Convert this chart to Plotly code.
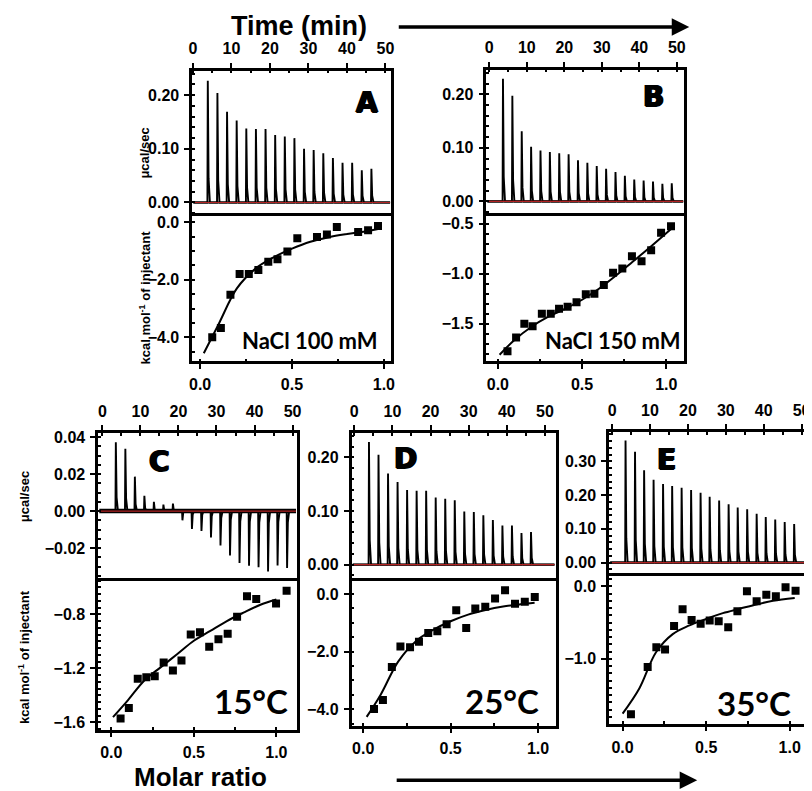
import plotly.graph_objects as go

W, H = 812, 791

# ---------------- DATA ----------------
# Thermograms: injection times (min) and peak heights (ucal/sec)
A_times = [3.8, 6.3, 8.8, 11.3, 13.8, 16.3, 18.8, 21.3, 23.8, 26.3, 28.8, 31.3, 33.8, 36.3, 38.8, 41.3, 43.8, 46.3]
A_peaks = [0.227, 0.204, 0.169, 0.153, 0.138, 0.137, 0.137, 0.126, 0.123, 0.120, 0.100, 0.098, 0.092, 0.083, 0.074, 0.074, 0.060, 0.063]

B_times = [3.6, 6.1, 8.6, 11.1, 13.6, 16.1, 18.6, 21.1, 23.6, 26.1, 28.6, 31.1, 33.6, 36.1, 38.6, 41.1, 43.6, 46.1, 48.6]
B_peaks = [0.229, 0.197, 0.131, 0.102, 0.095, 0.092, 0.090, 0.088, 0.077, 0.072, 0.066, 0.061, 0.055, 0.048, 0.041, 0.039, 0.037, 0.033, 0.034]

C_times = [3.5, 6.0, 8.5, 11.0, 13.5, 16.0, 18.5, 21.0, 23.5, 26.0, 28.5, 31.0, 33.5, 36.0, 38.5, 41.0, 43.5, 46.0, 48.5]
C_peaks = [0.0372, 0.0337, 0.0186, 0.0082, 0.005, 0.0035, 0.004, -0.005, -0.0097, -0.0107, -0.0143, -0.0186, -0.024, -0.028, -0.0295, -0.0303, -0.0326, -0.0294, -0.0308]

D_times = [3.8, 6.3, 8.8, 11.3, 13.8, 16.3, 18.8, 21.3, 23.8, 26.3, 28.8, 31.3, 33.8, 36.3, 38.8, 41.3, 43.8, 46.3]
D_peaks = [0.229, 0.205, 0.170, 0.154, 0.139, 0.138, 0.138, 0.125, 0.123, 0.120, 0.099, 0.098, 0.092, 0.083, 0.073, 0.073, 0.059, 0.061]

E_times = [3.5, 6.0, 8.4, 10.9, 13.4, 15.8, 18.3, 20.8, 23.3, 25.7, 28.2, 30.7, 33.1, 35.6, 38.1, 40.5, 43.0, 45.5, 48.0]
E_peaks = [0.362, 0.329, 0.274, 0.246, 0.233, 0.227, 0.222, 0.215, 0.207, 0.195, 0.184, 0.173, 0.163, 0.158, 0.145, 0.135, 0.128, 0.120, 0.114]

# Integrated heats: molar ratio vs kcal/mol of injectant
A_ratio = [0.066, 0.113, 0.165, 0.215, 0.265, 0.317, 0.371, 0.421, 0.475, 0.529, 0.636, 0.690, 0.744, 0.860, 0.914, 0.968]
A_heat = [-3.99, -3.67, -2.52, -1.80, -1.80, -1.66, -1.37, -1.29, -1.02, -0.56, -0.51, -0.43, -0.17, -0.34, -0.28, -0.13]
A_fit_x = [0.02, 0.1, 0.2, 0.3, 0.4, 0.5, 0.6, 0.7, 0.8, 0.9, 0.98]
A_fit_y = [-4.55, -3.55, -2.3, -1.62, -1.22, -0.92, -0.68, -0.52, -0.41, -0.32, -0.22]

B_ratio = [0.057, 0.108, 0.157, 0.206, 0.261, 0.314, 0.363, 0.414, 0.467, 0.522, 0.573, 0.629, 0.684, 0.739, 0.796, 0.853, 0.910, 0.969, 1.028]
B_heat = [-1.776, -1.637, -1.50, -1.524, -1.40, -1.40, -1.349, -1.329, -1.286, -1.206, -1.20, -1.113, -0.99, -0.947, -0.825, -0.875, -0.765, -0.59, -0.524]
B_fit_x = [0.01, 0.1, 0.2, 0.3, 0.4, 0.5, 0.6, 0.7, 0.8, 0.9, 1.03]
B_fit_y = [-1.81, -1.66, -1.53, -1.43, -1.35, -1.26, -1.15, -1.02, -0.88, -0.74, -0.55]

C_ratio = [0.056, 0.106, 0.160, 0.212, 0.263, 0.317, 0.373, 0.425, 0.481, 0.537, 0.593, 0.649, 0.705, 0.762, 0.822, 0.878, 0.998, 1.062]
C_heat = [-1.571, -1.492, -1.277, -1.265, -1.257, -1.155, -1.216, -1.142, -0.949, -0.932, -1.039, -0.983, -0.944, -0.817, -0.665, -0.685, -0.72, -0.624]
C_fit_x = [0.01, 0.1, 0.2, 0.3, 0.4, 0.5, 0.6, 0.7, 0.8, 0.9, 1.0]
C_fit_y = [-1.56, -1.436, -1.289, -1.19, -1.093, -0.995, -0.922, -0.849, -0.787, -0.73, -0.69]

D_ratio = [0.062, 0.113, 0.164, 0.213, 0.268, 0.319, 0.372, 0.424, 0.477, 0.532, 0.589, 0.641, 0.698, 0.754, 0.811, 0.868, 0.924, 0.981]
D_heat = [-4.0, -3.68, -2.54, -1.83, -1.85, -1.66, -1.36, -1.30, -1.05, -0.57, -1.18, -0.51, -0.45, -0.16, 0.13, -0.34, -0.27, -0.11]
D_fit_x = [0.02, 0.1, 0.2, 0.3, 0.4, 0.5, 0.6, 0.7, 0.8, 0.9, 0.98]
D_fit_y = [-4.27, -3.5, -2.35, -1.65, -1.25, -0.95, -0.72, -0.56, -0.44, -0.36, -0.31]

E_ratio = [0.05, 0.15, 0.202, 0.254, 0.308, 0.359, 0.413, 0.467, 0.521, 0.575, 0.632, 0.687, 0.744, 0.802, 0.86, 0.917, 0.975, 1.035]
E_heat = [-1.765, -1.114, -0.839, -0.871, -0.546, -0.316, -0.463, -0.518, -0.472, -0.481, -0.564, -0.344, -0.069, -0.206, -0.115, -0.138, -0.014, -0.06]
E_fit_x = [0.0, 0.1, 0.2, 0.3, 0.4, 0.5, 0.6, 0.7, 0.8, 0.9, 1.03]
E_fit_y = [-1.757, -1.41, -0.91, -0.66, -0.54, -0.45, -0.37, -0.31, -0.25, -0.2, -0.16]

time_ticks = [0, 10, 20, 30, 40, 50]
ratio_ticks = [0.0, 0.5, 1.0]

# ---------------- LAYOUT SPEC ----------------
panels = [
    dict(name="A", times=A_times, peaks=A_peaks, rx=A_ratio, ry=A_heat, fx=A_fit_x, fy=A_fit_y,
         box=(182, 383, 59, 206, 352), trange=[-0.2, 51.5], tr_y=[-0.026, 0.246], tyt=[0.0, 0.10, 0.20], tfmt=".2f",
         rr_x=[-0.043, 1.04], rr_y=[-4.83, 0.2], ryt=[0.0, -2.0, -4.0], rfmt=".1f", base_w=2.2,
         letter=(359, 91), cond="NaCl 100 mM", cond_pos=(372, 331), cond_size=22),
    dict(name="B", times=B_times, peaks=B_peaks, rx=B_ratio, ry=B_heat, fx=B_fit_x, fy=B_fit_y,
         box=(479, 679, 58, 206, 352), trange=[-0.8, 52.0], tr_y=[-0.028, 0.246], tyt=[0.0, 0.10, 0.20], tfmt=".2f",
         rr_x=[-0.069, 1.107], rr_y=[-1.876, -0.427], ryt=[-0.5, -1.0, -1.5], rfmt=".1f", base_w=2.2,
         letter=(648, 85), cond="NaCl 150 mM", cond_pos=(678, 331), cond_size=22),
    dict(name="C", times=C_times, peaks=C_peaks, rx=C_ratio, ry=C_heat, fx=C_fit_x, fy=C_fit_y,
         box=(87, 288, 424, 573, 723), trange=[-1.1, 51.2], tr_y=[-0.0376, 0.0423], tyt=[0.04, 0.02, 0.0, -0.02], tfmt=".2f",
         rr_x=[-0.08, 1.126], rr_y=[-1.652, -0.55], ryt=[-0.8, -1.2, -1.6], rfmt=".1f", base_w=4.5,
         letter=(149, 453), cond="15°C", cond_pos=(281, 694), cond_size=33),
    dict(name="D", times=D_times, peaks=D_peaks, rx=D_ratio, ry=D_heat, fx=D_fit_x, fy=D_fit_y,
         box=(343, 549, 424, 573, 719), trange=[-0.7, 52.8], tr_y=[-0.03, 0.246], tyt=[0.0, 0.10, 0.20], tfmt=".2f",
         rr_x=[-0.066, 1.10], rr_y=[-4.57, 0.46], ryt=[0.0, -2.0, -4.0], rfmt=".1f", base_w=2.2,
         letter=(397, 450), cond="25°C", cond_pos=(534, 694), cond_size=33),
    dict(name="E", times=E_times, peaks=E_peaks, rx=E_ratio, ry=E_heat, fx=E_fit_x, fy=E_fit_y,
         box=(603, 802, 423, 568, 717), trange=[-0.8, 51.2], tr_y=[-0.039, 0.388], tyt=[0.0, 0.10, 0.20, 0.30], tfmt=".2f",
         rr_x=[-0.081, 1.098], rr_y=[-1.894, 0.147], ryt=[0.0, -1.0], rfmt=".1f", base_w=2.2,
         letter=(661, 451), cond="35°C", cond_pos=(789, 696), cond_size=33),
]

TICKFONT = dict(family="Liberation Sans, Arial", size=16, color="black", weight=700)
LINE_W = 2.5


def fx_(px):
    return px / W


def fy_(py):
    return 1 - py / H


fig = go.Figure()
layout = dict(
    width=W, height=H, margin=dict(l=0, r=0, t=0, b=0),
    paper_bgcolor="white", plot_bgcolor="white", showlegend=False,
)
annotations = []

for i, p in enumerate(panels):
    top = 2 * i + 1
    bot = 2 * i + 2
    xt, yt = f"x{top}", f"y{top}"
    xb, yb = f"x{bot}", f"y{bot}"
    L, R, T, S, B = p["box"]

    # thermogram built from injection peaks
    tx, ty = [p["trange"][0] + 0.3], [0.0]
    for t, h in zip(p["times"], p["peaks"]):
        tx += [t - 0.05, t + 0.05, t + 0.25, t + 0.6]
        ty += [0.0, h, h * 0.2, 0.0]
    tx.append(p["trange"][1] - 0.3)
    ty.append(0.0)
    fig.add_trace(go.Scatter(x=[tx[0], tx[-1]], y=[0, 0], mode="lines",
                             line=dict(color="black", width=p["base_w"]), xaxis=xt, yaxis=yt))
    fig.add_trace(go.Scatter(x=tx, y=ty, mode="lines", line=dict(color="black", width=1.9),
                             xaxis=xt, yaxis=yt))
    fig.add_trace(go.Scatter(x=[tx[0], tx[-1]], y=[0, 0], mode="lines",
                             line=dict(color="#b22222", width=1.2), xaxis=xt, yaxis=yt))

    # binding isotherm
    fig.add_trace(go.Scatter(x=p["fx"], y=p["fy"], mode="lines", line=dict(color="black", width=2, shape="spline"),
                             xaxis=xb, yaxis=yb))
    fig.add_trace(go.Scatter(x=p["rx"], y=p["ry"], mode="markers",
                             marker=dict(symbol="square", size=8, color="black"), xaxis=xb, yaxis=yb))

    common = dict(showline=True, linewidth=LINE_W, linecolor="black", showgrid=False,
                  zeroline=False, ticks="outside", ticklen=5, tickwidth=2, tickcolor="black",
                  tickfont=TICKFONT, ticklabelstandoff=2)
    layout[f"xaxis{top}"] = dict(common, mirror=False, domain=[fx_(L), fx_(R)], range=p["trange"], side="top",
                                 tickvals=time_ticks, anchor=yt,
                                 minor=dict(ticks="inside", ticklen=3, dtick=5, tickcolor="black"))
    layout[f"yaxis{top}"] = dict(common, mirror=True, domain=[fy_(S), fy_(T)], range=p["tr_y"], tickvals=p["tyt"],
                                 tickformat=p["tfmt"], anchor=xt,
                                 minor=dict(ticks="inside", ticklen=3, tickcolor="black"))
    layout[f"xaxis{bot}"] = dict(common, mirror=True, domain=[fx_(L), fx_(R)], range=p["rr_x"], tickvals=ratio_ticks,
                                 tickformat=".1f", anchor=yb,
                                 minor=dict(ticks="inside", ticklen=3, dtick=0.25, tickcolor="black"))
    layout[f"yaxis{bot}"] = dict(common, mirror=True, domain=[fy_(B), fy_(S)], range=p["rr_y"], tickvals=p["ryt"],
                                 tickformat=p["rfmt"], anchor=xb,
                                 minor=dict(ticks="inside", ticklen=3, tickcolor="black"))

    lx, ly = p["letter"]
    annotations.append(dict(text=p["name"], x=fx_(lx), y=fy_(ly), xref="paper", yref="paper",
                            showarrow=False, xanchor="center", yanchor="middle",
                            font=dict(family="DejaVu Sans", size=28, color="black", weight=900,
                                      shadow="1px 0px 0px black, -1px 0px 0px black, 0px 1px 0px black")))
    cx, cy = p["cond_pos"]
    annotations.append(dict(text=p["cond"], x=fx_(cx), y=fy_(cy), xref="paper", yref="paper",
                            showarrow=False, xanchor="right", yanchor="middle",
                            font=dict(family="Lato", size=p["cond_size"], color="black", weight=700)))

# axis titles (rotated)
for (x, y, txt) in [(134, 142, "μcal/sec"), (134, 288, "kcal mol<sup>-1</sup> of injectant"),
                    (12, 488, "μcal/sec"), (12, 650, "kcal mol<sup>-1</sup> of injectant")]:
    annotations.append(dict(text=txt, x=fx_(x), y=fy_(y), xref="paper", yref="paper", showarrow=False,
                            textangle=-90, xanchor="center", yanchor="middle",
                            font=dict(family="Liberation Sans, Arial", size=13, color="black", weight=700)))

# big titles with arrows
annotations.append(dict(text="Time (min)", x=fx_(290), y=fy_(14), xref="paper", yref="paper", showarrow=False,
                        xanchor="center", yanchor="middle", borderpad=0,
                        font=dict(family="Liberation Sans, Arial", size=27, color="black", weight=700)))
annotations.append(dict(text="", x=fx_(684), y=fy_(15), xref="paper", yref="paper", showarrow=True,
                        ax=392 - 684, ay=0, arrowhead=2, arrowsize=1, arrowwidth=3.5, arrowcolor="black"))
annotations.append(dict(text="Molar ratio", x=fx_(190), y=fy_(771), xref="paper", yref="paper", showarrow=False,
                        xanchor="center", yanchor="middle", borderpad=0,
                        font=dict(family="Liberation Sans, Arial", size=26, color="black", weight=700)))
annotations.append(dict(text="", x=fx_(692), y=fy_(774), xref="paper", yref="paper", showarrow=True,
                        ax=390 - 692, ay=0, arrowhead=2, arrowsize=1, arrowwidth=3.5, arrowcolor="black"))

layout["annotations"] = annotations
fig.update_layout(**layout)
fig.write_html("out.html")
